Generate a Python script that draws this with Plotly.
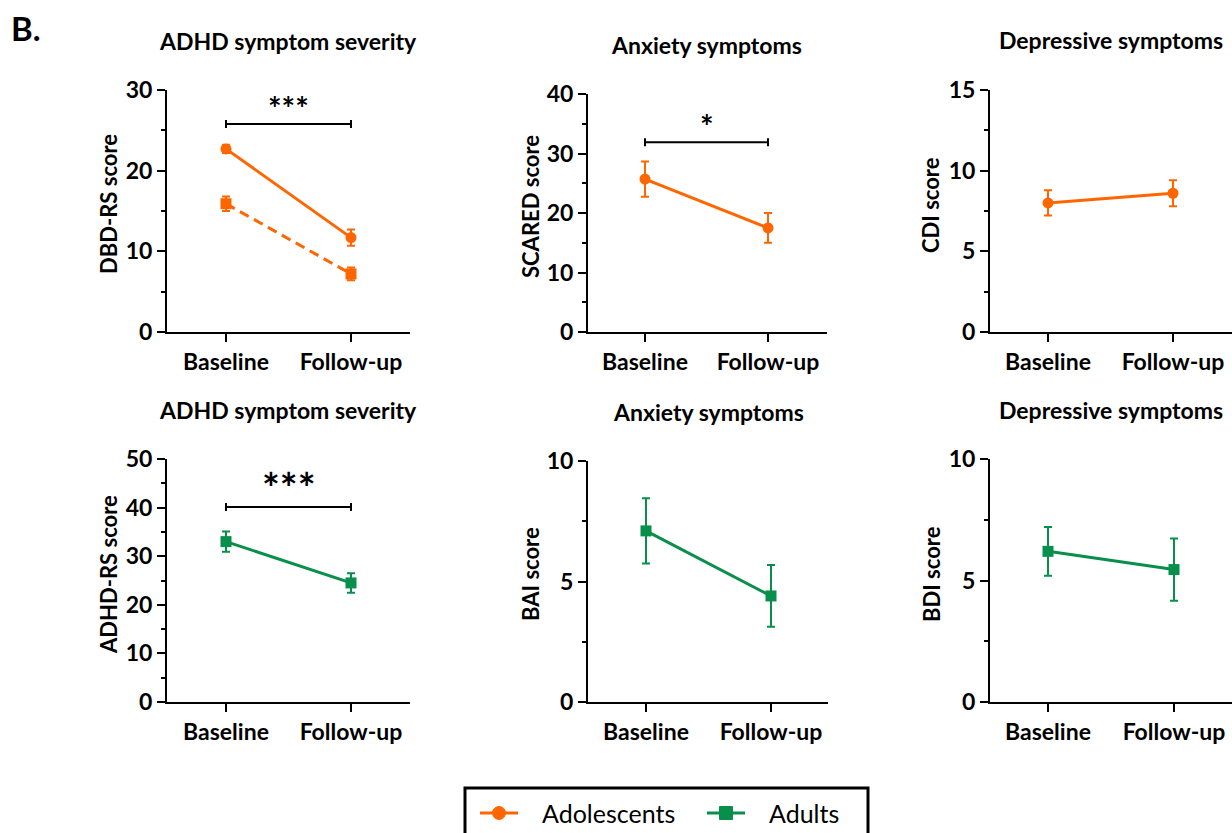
import plotly.graph_objects as go

W, H = 1232, 833

categories = ["Baseline", "Follow-up"]
x_pos = [0, 1]

# Adolescents
adol_dbd_total = [22.7, 11.7]
adol_dbd_total_err = [0.5, 1.0]
adol_dbd_sub = [15.9, 7.2]
adol_dbd_sub_err = [0.9, 0.8]
adol_scared = [25.7, 17.5]
adol_scared_err = [2.95, 2.5]
adol_cdi = [8.0, 8.6]
adol_cdi_err = [0.78, 0.8]

# Adults
adult_adhdrs = [33.0, 24.5]
adult_adhdrs_err = [2.1, 2.0]
adult_bai = [7.1, 4.4]
adult_bai_err = [1.35, 1.28]
adult_bdi = [6.2, 5.45]
adult_bdi_err = [1.0, 1.28]

panel_titles = ["ADHD symptom severity", "Anxiety symptoms", "Depressive symptoms",
                "ADHD symptom severity", "Anxiety symptoms", "Depressive symptoms"]
y_titles = ["DBD-RS score", "SCARED score", "CDI score",
            "ADHD-RS score", "BAI score", "BDI score"]
y_max = [30, 40, 15, 50, 10, 10]
y_major = [10, 10, 5, 10, 5, 5]
y_minor = [5, 5, 2.5, 5, 2.5, 2.5]

# significance brackets
sig_panels = [0, 1, 3]
sig_heights = [25.8, 31.9, 40.1]
sig_labels = ["***", "*", "***"]

legend_names = ["Adolescents", "Adults"]

ORANGE = "#FF6600"
GREEN = "#088F4B"
FONT = "Lato"

# pixel layout of each panel: axis left, axis right, baseline px, follow-up px, y0 px, ytop px
geo = [
    (167, 410, 226, 351, 332, 90),
    (588, 827, 645, 768, 332, 94),
    (990, 1232, 1048, 1173, 332, 90),
    (167, 410, 226, 351, 702, 459),
    (588, 828, 646, 771, 702, 461),
    (990, 1232, 1048, 1174, 702, 459),
]
title_pos = [(288, 41), (706, 45), (1111, 40), (288, 410), (708, 412), (1111, 410)]
ytitle_pos = [(108, 204), (530, 207), (931, 205), (108, 575), (530, 574), (931, 574)]


def px(xp):
    return xp / W


def py(yp):
    return 1 - yp / H


fig = go.Figure()

series = [
    (0, adol_dbd_total, adol_dbd_total_err, ORANGE, "circle", "solid", "Adolescents"),
    (0, adol_dbd_sub, adol_dbd_sub_err, ORANGE, "square", "10px,6px", "Adolescents"),
    (1, adol_scared, adol_scared_err, ORANGE, "circle", "solid", "Adolescents"),
    (2, adol_cdi, adol_cdi_err, ORANGE, "circle", "solid", "Adolescents"),
    (3, adult_adhdrs, adult_adhdrs_err, GREEN, "square", "solid", "Adults"),
    (4, adult_bai, adult_bai_err, GREEN, "square", "solid", "Adults"),
    (5, adult_bdi, adult_bdi_err, GREEN, "square", "solid", "Adults"),
]

for (p, vals, errs, col, sym, dash, name) in series:
    suffix = "" if p == 0 else str(p + 1)
    fig.add_trace(go.Scatter(
        x=x_pos, y=vals, mode="lines+markers", name=name, showlegend=False,
        xaxis="x" + suffix, yaxis="y" + suffix,
        line=dict(color=col, width=3, dash=dash),
        marker=dict(color=col, symbol=sym, size=11),
        error_y=dict(type="data", array=errs, visible=True, color=col,
                     thickness=2, width=4),
        cliponaxis=False,
    ))

annotations = []
shapes = []

for i, (l, r, b, f, y0p, ytp) in enumerate(geo):
    suffix = "" if i == 0 else str(i + 1)
    spacing = f - b
    xr = [-(b - l) / spacing, (r - b) / spacing]
    fig.layout["xaxis" + suffix] = dict(
        domain=[px(l), min(px(r), 1.0)], anchor="y" + suffix, range=xr,
        tickvals=x_pos, ticktext=categories, showline=True, linecolor="black",
        linewidth=2, ticks="outside", ticklen=8, tickwidth=2, tickcolor="black",
        showgrid=False, zeroline=False, fixedrange=True, automargin=False,
        tickfont=dict(family=FONT, size=23, color="black", weight="bold"),
    )
    fig.layout["yaxis" + suffix] = dict(
        domain=[py(y0p), py(ytp)], anchor="x" + suffix, range=[0, y_max[i]],
        tick0=0, dtick=y_major[i], showline=True, linecolor="black", linewidth=2,
        ticks="outside", ticklen=8, tickwidth=2, tickcolor="black",
        minor=dict(dtick=y_minor[i], ticks="outside", ticklen=4, tickwidth=2,
                   tickcolor="black", showgrid=False),
        showgrid=False, zeroline=False, fixedrange=True, automargin=False,
        tickfont=dict(family=FONT, size=23, color="black", weight="bold"),
    )
    tx, ty = title_pos[i]
    annotations.append(dict(text="<b>" + panel_titles[i] + "</b>", x=px(tx), y=py(ty),
                            xref="paper", yref="paper", showarrow=False,
                            xanchor="center", yanchor="middle",
                            font=dict(family=FONT, size=23, color="black")))
    ax, ay = ytitle_pos[i]
    annotations.append(dict(text="<b>" + y_titles[i] + "</b>", x=px(ax), y=py(ay),
                            xref="paper", yref="paper", showarrow=False, textangle=-90,
                            xanchor="center", yanchor="middle",
                            font=dict(family=FONT, size=22, color="black")))

for k, p in enumerate(sig_panels):
    suffix = "" if p == 0 else str(p + 1)
    h = sig_heights[k]
    shapes.append(dict(type="line", xref="x" + suffix, yref="y" + suffix,
                       x0=0, x1=1, y0=h, y1=h, line=dict(color="black", width=2)))
    for xv in x_pos:
        shapes.append(dict(type="line", xref="x" + suffix, yref="y" + suffix,
                           x0=xv, x1=xv, ysizemode="pixel", yanchor=h, y0=-4, y1=4,
                           line=dict(color="black", width=2)))
    size = 42 if p == 3 else 32
    annotations.append(dict(text="<b>" + sig_labels[k] + "</b>", x=0.5, y=h,
                            xref="x" + suffix, yref="y" + suffix, showarrow=False,
                            xanchor="center", yanchor="bottom",
                            yshift=-8 if p == 3 else -6,
                            font=dict(family=FONT, size=size, color="black")))

annotations.append(dict(text="<b>B.</b>", x=px(26), y=py(28), xref="paper", yref="paper",
                        showarrow=False, xanchor="center", yanchor="middle",
                        font=dict(family=FONT, size=33, color="black")))

# legend (drawn box, symbols and labels)
shapes.append(dict(type="rect", xref="paper", yref="paper",
                   x0=px(465), x1=px(868), y0=py(788), y1=py(860),
                   line=dict(color="black", width=3), fillcolor="white", layer="above"))
leg_cols = [ORANGE, GREEN]
leg_line = [(480, 518), (707, 745)]
leg_text_x = [540, 767]
leg_y = 813
for j in range(2):
    a0, a1 = leg_line[j]
    shapes.append(dict(type="line", xref="paper", yref="paper",
                       x0=px(a0), x1=px(a1), y0=py(leg_y), y1=py(leg_y),
                       line=dict(color=leg_cols[j], width=3), layer="above"))
    cx = (a0 + a1) / 2
    shapes.append(dict(type="circle" if j == 0 else "rect", xref="paper", yref="paper",
                       xsizemode="pixel", ysizemode="pixel",
                       xanchor=px(cx), yanchor=py(leg_y), x0=-6.5, x1=6.5, y0=-6.5, y1=6.5,
                       fillcolor=leg_cols[j], line=dict(color=leg_cols[j], width=1),
                       layer="above"))
    annotations.append(dict(text=legend_names[j], x=px(leg_text_x[j]), y=py(leg_y),
                            xref="paper", yref="paper", showarrow=False,
                            xanchor="left", yanchor="middle",
                            font=dict(family=FONT, size=25, color="black")))

fig.update_layout(
    template="none",
    width=W, height=H, margin=dict(l=0, r=0, t=0, b=0, pad=0),
    paper_bgcolor="white", plot_bgcolor="rgba(0,0,0,0)",
    annotations=annotations, shapes=shapes,
    showlegend=False,
)

fig.write_html("out.html", config={"displayModeBar": False},
               post_script="document.body.style.margin='0px';")
